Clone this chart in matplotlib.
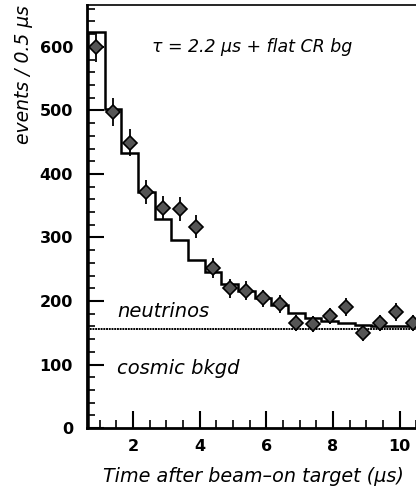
import matplotlib
matplotlib.use("Agg")
import matplotlib.pyplot as plt
from matplotlib.ticker import MultipleLocator

# bin edges (0.5 us bins) and fitted histogram levels
edges = [0.65, 1.15, 1.65, 2.15, 2.65, 3.15, 3.65, 4.15, 4.65, 5.15, 5.65,
         6.15, 6.65, 7.15, 7.65, 8.15, 8.65, 9.15, 9.65, 10.15, 10.65]
fit = [624, 503, 433, 371, 329, 296, 265, 245, 226, 215,
       204, 194, 181, 174, 169, 165, 162, 161, 161, 160]

# measured points
t = [0.9, 1.4, 1.9, 2.4, 2.9, 3.4, 3.9, 4.4, 4.9, 5.4,
     5.9, 6.4, 6.9, 7.4, 7.9, 8.4, 8.9, 9.4, 9.9, 10.4]
counts = [600, 498, 449, 372, 347, 345, 317, 252, 220, 216,
          204, 195, 165, 164, 176, 191, 149, 165, 183, 165]
errs = [24, 22, 21, 19, 19, 19, 18, 16, 15, 15,
        14, 14, 13, 13, 13, 14, 12, 13, 14, 13]

bkgd = 156

fig = plt.figure(figsize=(4.16, 4.96), dpi=100)
ax = fig.add_axes([0.209, 0.137, 0.80, 0.853])

ax.stairs(fit, edges, color="black", linewidth=1.8)
ax.axhline(bkgd, color="black", linewidth=1.4, linestyle=(0, (1, 0.4)))
ax.errorbar(t, counts, yerr=errs, fmt="D", color="black", ms=7,
            mfc="#555555", mec="black", mew=1.2, elinewidth=1.3, capsize=0)

ax.set_xlim(0.62, 10.6)
ax.set_ylim(0, 666)

ax.xaxis.set_major_locator(MultipleLocator(2))
ax.xaxis.set_minor_locator(MultipleLocator(0.5))
ax.yaxis.set_major_locator(MultipleLocator(100))
ax.yaxis.set_minor_locator(MultipleLocator(20))
ax.tick_params(which="both", direction="in", color="black")
ax.tick_params(which="major", length=12, width=1.5)
ax.tick_params(which="minor", length=6, width=1.2)
ax.tick_params(axis="both", labelsize=11.5)
ax.tick_params(axis="y", pad=10)
ax.tick_params(axis="x", pad=8)
for lab in ax.get_xticklabels() + ax.get_yticklabels():
    lab.set_fontweight("bold")

ax.spines["right"].set_visible(False)
ax.spines["left"].set_linewidth(2)
ax.spines["bottom"].set_linewidth(2)
ax.spines["top"].set_linewidth(1.2)

ax.text(5.58, 600, "τ = 2.2 μs + flat CR bg", ha="center", va="center",
        fontsize=12.5, style="italic")
ax.text(1.52, 183, "neutrinos", ha="left", va="center",
        fontsize=14, style="italic")
ax.text(1.52, 94, "cosmic bkgd", ha="left", va="center",
        fontsize=14, style="italic")

ax.set_xlabel("Time after beam–on target (μs)", fontsize=13.8,
              style="italic", labelpad=9)
ax.set_ylabel("events / 0.5 μs", fontsize=13.5, style="italic", loc="top",
              labelpad=5)

fig.savefig("out.png", dpi=100)
